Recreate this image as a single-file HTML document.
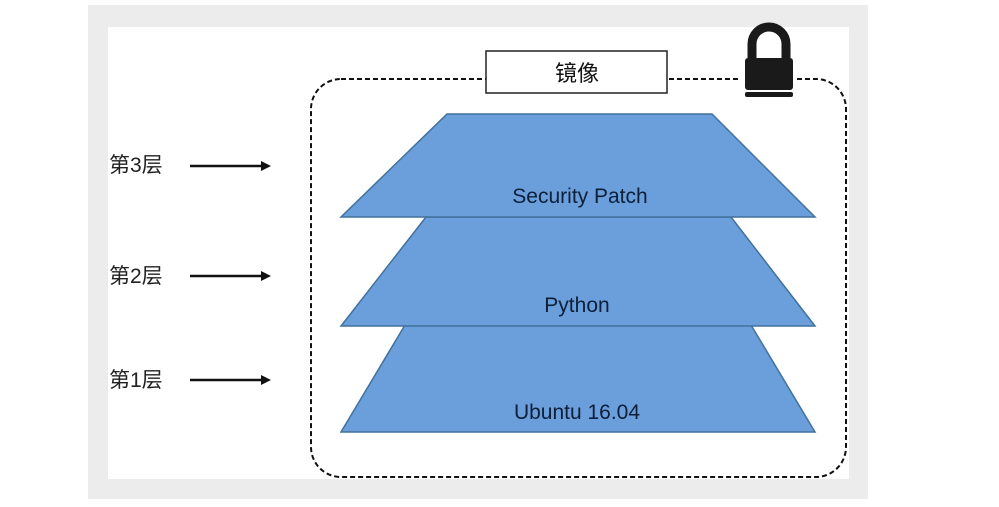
<!DOCTYPE html>
<html><head><meta charset="utf-8"><style>
html,body{margin:0;padding:0;background:#fff;}
body{width:999px;height:507px;overflow:hidden;position:relative;}
</style></head><body>
<svg width="999" height="507" viewBox="0 0 999 507" xmlns="http://www.w3.org/2000/svg" style="position:absolute;left:0;top:0">
<rect x="88" y="5" width="780" height="494" fill="#ececec"/>
<rect x="108" y="27" width="741" height="452" fill="#ffffff"/>
<rect x="311" y="79" width="535" height="398" rx="30" ry="30" fill="none" stroke="#111" stroke-width="2" stroke-dasharray="5,3"/>
<rect x="486" y="51" width="181" height="42" fill="#fff" stroke="#222" stroke-width="1.5"/>
<text x="577" y="81" font-family="'Liberation Sans','Noto Sans CJK SC',sans-serif" font-size="22" text-anchor="middle" fill="#111">镜像</text>
<!-- lock -->
<rect x="739" y="64" width="58" height="34" fill="#fff"/>
<path d="M752 60 V44 a17 17 0 0 1 34 0 V60" fill="none" stroke="#1a1a1a" stroke-width="9"/>
<rect x="745" y="58" width="48" height="32" rx="3" fill="#1a1a1a"/>
<rect x="745" y="92" width="48" height="5" rx="2" fill="#1a1a1a"/>
<g stroke="#41719c" stroke-width="1.5" fill="#6a9fdb">
<polygon points="405,325 751,325 815,432 341,432"/>
<polygon points="426,217 731,217 815,326 341,326"/>
<polygon points="447,114 712,114 815,217 341,217"/>
</g>
<g font-family="'Liberation Sans',sans-serif" font-size="21" fill="#0d1f3a" text-anchor="middle">
<text x="580" y="203">Security Patch</text>
<text x="577" y="312">Python</text>
<text x="577" y="419">Ubuntu 16.04</text>
</g>
<g font-family="'Liberation Sans','Noto Sans CJK SC',sans-serif" font-size="21" fill="#222">
<text x="109" y="172">第3层</text>
<text x="109" y="283">第2层</text>
<text x="109" y="387">第1层</text>
</g>
<g stroke="#111" stroke-width="2.5">
<line x1="190" y1="166" x2="262" y2="166"/>
<line x1="190" y1="276" x2="262" y2="276"/>
<line x1="190" y1="380" x2="262" y2="380"/>
</g>
<g fill="#111">
<polygon points="271,166 261,161 261,171"/>
<polygon points="271,276 261,271 261,281"/>
<polygon points="271,380 261,375 261,385"/>
</g>
</svg>
</body></html>
